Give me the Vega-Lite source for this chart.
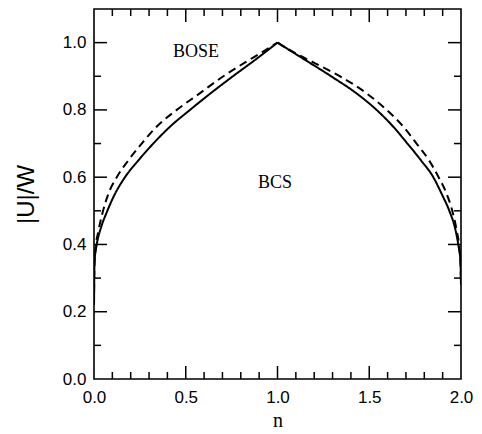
{
  "$schema": "https://vega.github.io/schema/vega-lite/v6.json",
  "width": 367,
  "height": 370,
  "autosize": "none",
  "padding": {"left": 94, "top": 9, "right": 21, "bottom": 55},
  "background": "white",
  "config": {
    "view": {"stroke": "black", "strokeWidth": 1.6},
    "rule": {"color": "black", "strokeWidth": 1.5},
    "axis": {
      "domain": false,
      "ticks": false,
      "grid": false,
      "labelFont": "Liberation Sans",
      "labelFontSize": 17,
      "labelColor": "black",
      "titleColor": "black",
      "titleFontWeight": "normal",
      "labelFlush": false,
      "labelOverlap": false
    }
  },
  "datasets": {
    "curves": [
      {"n": 0.0, "u": 0.22, "s": "solid", "seg": "L"},
      {"n": 0.003, "u": 0.35, "s": "solid", "seg": "L"},
      {"n": 0.015, "u": 0.4, "s": "solid", "seg": "L"},
      {"n": 0.038, "u": 0.45, "s": "solid", "seg": "L"},
      {"n": 0.069, "u": 0.495, "s": "solid", "seg": "L"},
      {"n": 0.114, "u": 0.55, "s": "solid", "seg": "L"},
      {"n": 0.169, "u": 0.6, "s": "solid", "seg": "L"},
      {"n": 0.242, "u": 0.65, "s": "solid", "seg": "L"},
      {"n": 0.323, "u": 0.7, "s": "solid", "seg": "L"},
      {"n": 0.414, "u": 0.75, "s": "solid", "seg": "L"},
      {"n": 0.523, "u": 0.8, "s": "solid", "seg": "L"},
      {"n": 0.637, "u": 0.85, "s": "solid", "seg": "L"},
      {"n": 0.757, "u": 0.9, "s": "solid", "seg": "L"},
      {"n": 0.886, "u": 0.952, "s": "solid", "seg": "L"},
      {"n": 1.0, "u": 1.0, "s": "solid", "seg": "L"},
      {"n": 1.0, "u": 1.0, "s": "solid", "seg": "R"},
      {"n": 1.123, "u": 0.958, "s": "solid", "seg": "R"},
      {"n": 1.295, "u": 0.899, "s": "solid", "seg": "R"},
      {"n": 1.431, "u": 0.849, "s": "solid", "seg": "R"},
      {"n": 1.54, "u": 0.8, "s": "solid", "seg": "R"},
      {"n": 1.631, "u": 0.75, "s": "solid", "seg": "R"},
      {"n": 1.708, "u": 0.7, "s": "solid", "seg": "R"},
      {"n": 1.782, "u": 0.65, "s": "solid", "seg": "R"},
      {"n": 1.849, "u": 0.6, "s": "solid", "seg": "R"},
      {"n": 1.895, "u": 0.55, "s": "solid", "seg": "R"},
      {"n": 1.94, "u": 0.495, "s": "solid", "seg": "R"},
      {"n": 1.967, "u": 0.45, "s": "solid", "seg": "R"},
      {"n": 1.985, "u": 0.4, "s": "solid", "seg": "R"},
      {"n": 1.997, "u": 0.35, "s": "solid", "seg": "R"},
      {"n": 2.0, "u": 0.28, "s": "solid", "seg": "R"},
      {"n": 0.0, "u": 0.22, "s": "dashed", "seg": "L"},
      {"n": 0.002, "u": 0.33, "s": "dashed", "seg": "L"},
      {"n": 0.009, "u": 0.39, "s": "dashed", "seg": "L"},
      {"n": 0.024, "u": 0.44, "s": "dashed", "seg": "L"},
      {"n": 0.047, "u": 0.495, "s": "dashed", "seg": "L"},
      {"n": 0.078, "u": 0.55, "s": "dashed", "seg": "L"},
      {"n": 0.124, "u": 0.6, "s": "dashed", "seg": "L"},
      {"n": 0.187, "u": 0.65, "s": "dashed", "seg": "L"},
      {"n": 0.26, "u": 0.7, "s": "dashed", "seg": "L"},
      {"n": 0.341, "u": 0.75, "s": "dashed", "seg": "L"},
      {"n": 0.451, "u": 0.8, "s": "dashed", "seg": "L"},
      {"n": 0.578, "u": 0.85, "s": "dashed", "seg": "L"},
      {"n": 0.705, "u": 0.9, "s": "dashed", "seg": "L"},
      {"n": 0.832, "u": 0.944, "s": "dashed", "seg": "L"},
      {"n": 0.905, "u": 0.968, "s": "dashed", "seg": "L"},
      {"n": 1.0, "u": 1.0, "s": "dashed", "seg": "L"},
      {"n": 1.0, "u": 1.0, "s": "dashed", "seg": "R"},
      {"n": 1.1, "u": 0.968, "s": "dashed", "seg": "R"},
      {"n": 1.2, "u": 0.94, "s": "dashed", "seg": "R"},
      {"n": 1.3, "u": 0.912, "s": "dashed", "seg": "R"},
      {"n": 1.35, "u": 0.897, "s": "dashed", "seg": "R"},
      {"n": 1.486, "u": 0.849, "s": "dashed", "seg": "R"},
      {"n": 1.595, "u": 0.8, "s": "dashed", "seg": "R"},
      {"n": 1.686, "u": 0.75, "s": "dashed", "seg": "R"},
      {"n": 1.758, "u": 0.7, "s": "dashed", "seg": "R"},
      {"n": 1.826, "u": 0.65, "s": "dashed", "seg": "R"},
      {"n": 1.878, "u": 0.6, "s": "dashed", "seg": "R"},
      {"n": 1.922, "u": 0.55, "s": "dashed", "seg": "R"},
      {"n": 1.955, "u": 0.495, "s": "dashed", "seg": "R"},
      {"n": 1.977, "u": 0.44, "s": "dashed", "seg": "R"},
      {"n": 1.991, "u": 0.39, "s": "dashed", "seg": "R"},
      {"n": 1.998, "u": 0.33, "s": "dashed", "seg": "R"},
      {"n": 2.0, "u": 0.28, "s": "dashed", "seg": "R"}
    ],
    "labels": [
      {"n": 0.556, "u": 0.972, "text": "BOSE"},
      {"n": 0.986, "u": 0.584, "text": "BCS"}
    ],
    "xmajor": [{"v": 0.5}, {"v": 1.0}, {"v": 1.5}],
    "xminor": [
      {"v": 0.1}, {"v": 0.2}, {"v": 0.3}, {"v": 0.4}, {"v": 0.6}, {"v": 0.7}, {"v": 0.8}, {"v": 0.9},
      {"v": 1.1}, {"v": 1.2}, {"v": 1.3}, {"v": 1.4}, {"v": 1.6}, {"v": 1.7}, {"v": 1.8}, {"v": 1.9}
    ],
    "ymajor": [{"v": 0.2}, {"v": 0.4}, {"v": 0.6}, {"v": 0.8}, {"v": 1.0}],
    "yminor": [{"v": 0.1}, {"v": 0.3}, {"v": 0.5}, {"v": 0.7}, {"v": 0.9}]
  },
  "encoding": {
    "x": {
      "type": "quantitative",
      "scale": {"domain": [0, 2], "nice": false, "zero": false},
      "axis": {
        "orient": "bottom",
        "title": "n",
        "titleFont": "Liberation Serif",
        "titleFontSize": 20,
        "titlePadding": 5,
        "values": [0, 0.5, 1.0, 1.5, 2.0],
        "format": ".1f",
        "labelPadding": 10
      }
    },
    "y": {
      "type": "quantitative",
      "scale": {"domain": [0, 1.1], "nice": false, "zero": false},
      "axis": {
        "orient": "left",
        "title": "|U|/W",
        "titleFont": "Liberation Sans",
        "titleFontSize": 24,
        "titlePadding": 24,
        "values": [0, 0.2, 0.4, 0.6, 0.8, 1.0],
        "format": ".1f",
        "labelPadding": 8
      }
    }
  },
  "layer": [
    {
      "data": {"name": "curves"},
      "mark": {"type": "line", "interpolate": "monotone", "strokeWidth": 2, "color": "black", "clip": true},
      "encoding": {
        "x": {"field": "n", "type": "quantitative"},
        "y": {"field": "u", "type": "quantitative"},
        "detail": {"field": "seg"},
        "strokeDash": {
          "field": "s", "type": "nominal",
          "scale": {"domain": ["solid", "dashed"], "range": [[1, 0], [8, 5]]},
          "legend": null
        }
      }
    },
    {
      "data": {"name": "labels"},
      "mark": {"type": "text", "font": "Liberation Serif", "fontSize": 18, "color": "black"},
      "encoding": {
        "x": {"field": "n", "type": "quantitative"},
        "y": {"field": "u", "type": "quantitative"},
        "text": {"field": "text"}
      }
    },
    {
      "data": {"name": "xmajor"},
      "mark": {"type": "rule"},
      "encoding": {"x": {"field": "v", "type": "quantitative"}, "y": {"datum": 0, "type": "quantitative"}, "y2": {"datum": 0.0386}}
    },
    {
      "data": {"name": "xminor"},
      "mark": {"type": "rule"},
      "encoding": {"x": {"field": "v", "type": "quantitative"}, "y": {"datum": 0, "type": "quantitative"}, "y2": {"datum": 0.0208}}
    },
    {
      "data": {"name": "xmajor"},
      "mark": {"type": "rule"},
      "encoding": {"x": {"field": "v", "type": "quantitative"}, "y": {"datum": 1.0614, "type": "quantitative"}, "y2": {"datum": 1.0995}}
    },
    {
      "data": {"name": "xminor"},
      "mark": {"type": "rule"},
      "encoding": {"x": {"field": "v", "type": "quantitative"}, "y": {"datum": 1.0792, "type": "quantitative"}, "y2": {"datum": 1.0995}}
    },
    {
      "data": {"name": "ymajor"},
      "mark": {"type": "rule"},
      "encoding": {"y": {"field": "v", "type": "quantitative"}, "x": {"datum": 0.001, "type": "quantitative"}, "x2": {"datum": 0.0708}}
    },
    {
      "data": {"name": "yminor"},
      "mark": {"type": "rule"},
      "encoding": {"y": {"field": "v", "type": "quantitative"}, "x": {"datum": 0.001, "type": "quantitative"}, "x2": {"datum": 0.0381}}
    },
    {
      "data": {"name": "ymajor"},
      "mark": {"type": "rule"},
      "encoding": {"y": {"field": "v", "type": "quantitative"}, "x": {"datum": 1.9292, "type": "quantitative"}, "x2": {"datum": 1.999}}
    },
    {
      "data": {"name": "yminor"},
      "mark": {"type": "rule"},
      "encoding": {"y": {"field": "v", "type": "quantitative"}, "x": {"datum": 1.9619, "type": "quantitative"}, "x2": {"datum": 1.999}}
    }
  ]
}
